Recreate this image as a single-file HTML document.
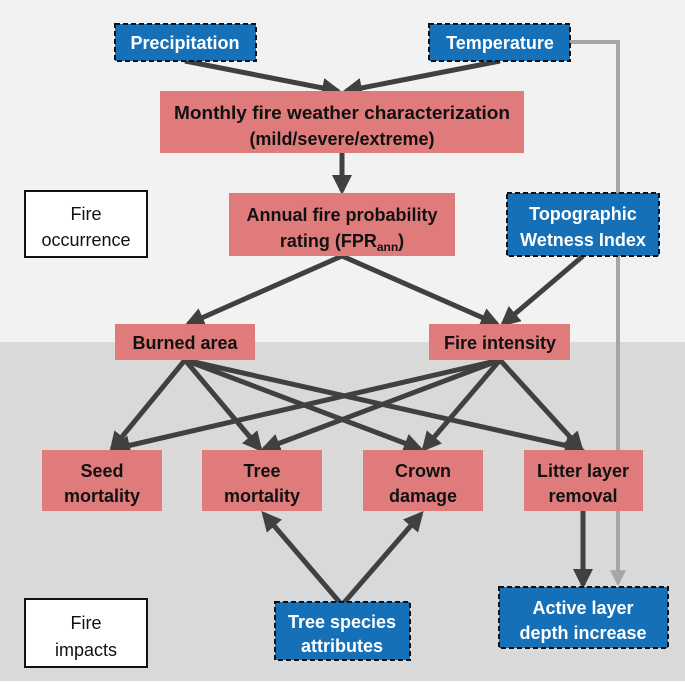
<!DOCTYPE html>
<html><head><meta charset="utf-8"><style>
html,body{margin:0;padding:0;background:#fff}
body{width:685px;height:685px;overflow:hidden;position:relative;font-family:"Liberation Sans",sans-serif}
</style></head><body>
<svg width="685" height="685" viewBox="0 0 685 685" xmlns="http://www.w3.org/2000/svg" style="position:absolute;left:0;top:0">
<defs>
<marker id="a" viewBox="0 0 10 10" refX="8" refY="5" markerWidth="4" markerHeight="4" orient="auto" markerUnits="strokeWidth"><path d="M0,0 L10,5 L0,10 z" fill="#404040"/></marker>
<marker id="g" viewBox="0 0 10 10" refX="8" refY="5" markerWidth="4" markerHeight="4" orient="auto" markerUnits="strokeWidth"><path d="M0,0 L10,5 L0,10 z" fill="#a6a6a6"/></marker>
</defs>
<rect x="0" y="0" width="685" height="342" fill="#f2f2f2"/>
<rect x="0" y="342" width="685" height="339" fill="#d9d9d9"/>
<polyline points="570,42 618,42 618,583" fill="none" stroke="#a6a6a6" stroke-width="4" marker-end="url(#g)"/>
<g stroke="#404040" stroke-width="5" fill="none">
<line x1="185" y1="61" x2="338" y2="91" marker-end="url(#a)"/>
<line x1="500" y1="61" x2="346" y2="91" marker-end="url(#a)"/>
<line x1="342" y1="153" x2="342" y2="191" marker-end="url(#a)"/>
<line x1="342" y1="256" x2="188" y2="324" marker-end="url(#a)"/>
<line x1="342" y1="256" x2="497" y2="324" marker-end="url(#a)"/>
<line x1="583" y1="256" x2="503" y2="324" marker-end="url(#a)"/>
<line x1="185" y1="360" x2="112" y2="449" marker-end="url(#a)"/>
<line x1="185" y1="360" x2="260" y2="449" marker-end="url(#a)"/>
<line x1="185" y1="360" x2="420" y2="449" marker-end="url(#a)"/>
<line x1="185" y1="360" x2="581" y2="449" marker-end="url(#a)"/>
<line x1="500" y1="360" x2="114" y2="449" marker-end="url(#a)"/>
<line x1="500" y1="360" x2="264" y2="449" marker-end="url(#a)"/>
<line x1="500" y1="360" x2="424" y2="449" marker-end="url(#a)"/>
<line x1="500" y1="360" x2="581" y2="449" marker-end="url(#a)"/>
<line x1="342" y1="605" x2="264" y2="514" marker-end="url(#a)"/>
<line x1="342" y1="605" x2="421" y2="514" marker-end="url(#a)"/>
<line x1="583" y1="511" x2="583" y2="585" marker-end="url(#a)"/>
</g>
<g fill="#e07b7b">
<rect x="160" y="91" width="364" height="62"/>
<rect x="229" y="193" width="226" height="63"/>
<rect x="115" y="324" width="140" height="36"/>
<rect x="429" y="324" width="141" height="36"/>
<rect x="42" y="450" width="120" height="61"/>
<rect x="202" y="450" width="120" height="61"/>
<rect x="363" y="450" width="120" height="61"/>
<rect x="524" y="450" width="119" height="61"/>
</g>
<g fill="#1670b8" stroke="#111" stroke-width="2" stroke-dasharray="5,3">
<rect x="115" y="24" width="141" height="37"/>
<rect x="429" y="24" width="141" height="37"/>
<rect x="507" y="193" width="152" height="63"/>
<rect x="275" y="602" width="135" height="58"/>
<rect x="499" y="587" width="169" height="61"/>
</g>
<g fill="#fff" stroke="#111" stroke-width="2">
<rect x="25" y="191" width="122" height="66"/>
<rect x="25" y="599" width="122" height="68"/>
</g>
<g font-family="Liberation Sans, sans-serif" font-weight="bold" font-size="18" text-anchor="middle" fill="#111">
<text x="342" y="119" textLength="336" lengthAdjust="spacingAndGlyphs">Monthly fire weather characterization</text>
<text x="342" y="145">(mild/severe/extreme)</text>
<text x="342" y="221">Annual fire probability</text>
<text x="342" y="247">rating (FPR<tspan font-size="12" dy="4">ann</tspan><tspan dy="-4">)</tspan></text>
<text x="185" y="349">Burned area</text>
<text x="500" y="349">Fire intensity</text>
<text x="102" y="477">Seed</text><text x="102" y="502">mortality</text>
<text x="262" y="477">Tree</text><text x="262" y="502">mortality</text>
<text x="423" y="477">Crown</text><text x="423" y="502">damage</text>
<text x="583" y="477">Litter layer</text><text x="583" y="502">removal</text>
<text x="86" y="220" font-weight="normal">Fire</text><text x="86" y="246" font-weight="normal">occurrence</text>
<text x="86" y="629" font-weight="normal">Fire</text><text x="86" y="656" font-weight="normal">impacts</text>
</g>
<g font-family="Liberation Sans, sans-serif" font-weight="bold" font-size="18" text-anchor="middle" fill="#fff">
<text x="185" y="49">Precipitation</text>
<text x="500" y="49">Temperature</text>
<text x="583" y="220">Topographic</text><text x="583" y="246">Wetness Index</text>
<text x="342" y="628">Tree species</text><text x="342" y="652">attributes</text>
<text x="583" y="614">Active layer</text><text x="583" y="639">depth increase</text>
</g>
</svg>
</body></html>
